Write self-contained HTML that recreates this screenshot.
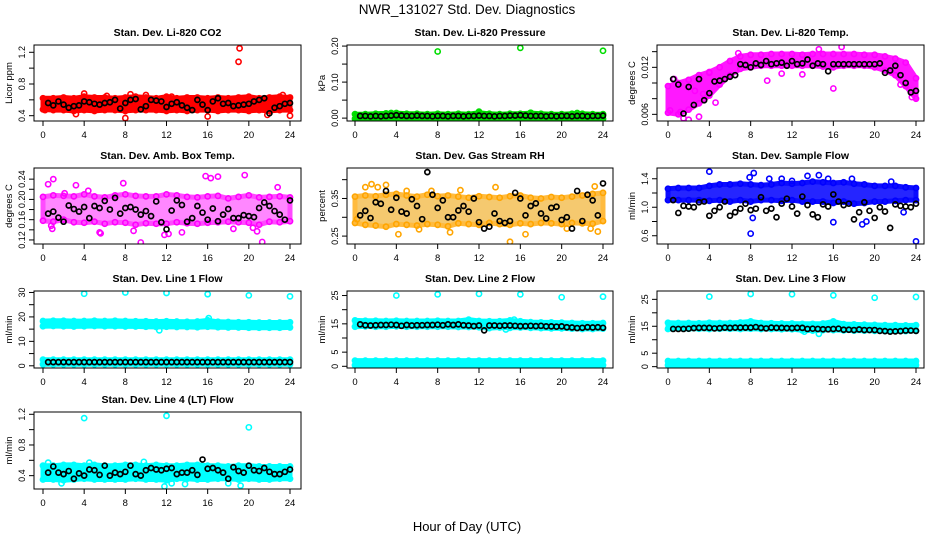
<!DOCTYPE html>
<html><head><meta charset="utf-8">
<style>
html,body{margin:0;padding:0;background:#fff;}
svg{display:block;font-family:"Liberation Sans",sans-serif;}
</style></head>
<body>
<svg id="chart" width="936" height="540" viewBox="0 0 936 540">
<text x="467" y="14" text-anchor="middle" font-size="13.5">NWR_131027  Std. Dev. Diagnostics</text>
<text x="467" y="531" text-anchor="middle" font-size="13">Hour of Day (UTC)</text>
</svg>
<script>
// ---- data (hours 0..24 hourly band limits; black points every 0.5h from 0.5 to 24) ----
const hours = [0,1,2,3,4,5,6,7,8,9,10,11,12,13,14,15,16,17,18,19,20,21,22,23,24];
const xTicks = [0,4,8,12,16,20,24];

const co2Lo = [0.48,0.47,0.47,0.46,0.47,0.46,0.47,0.47,0.46,0.47,0.47,0.47,0.46,0.47,0.46,0.47,0.47,0.46,0.47,0.47,0.46,0.47,0.46,0.47,0.47];
const co2Hi = [0.62,0.62,0.63,0.62,0.64,0.63,0.63,0.62,0.63,0.64,0.63,0.62,0.64,0.62,0.63,0.63,0.62,0.63,0.62,0.63,0.64,0.62,0.63,0.64,0.63];
const co2OutX = [19.1,19,8,16,21.8,24,4,8.5,10,23.3,3.2,0.2,12.5,6.2];
const co2OutY = [1.25,1.08,0.37,0.39,0.41,0.40,0.68,0.67,0.66,0.66,0.42,0.47,0.64,0.65];
const co2Black = [0.56,0.53,0.58,0.54,0.50,0.52,0.53,0.58,0.57,0.55,0.54,0.56,0.57,0.60,0.49,0.56,0.60,0.61,0.48,0.52,0.60,0.59,0.58,0.51,0.55,0.57,0.53,0.50,0.47,0.60,0.54,0.47,0.58,0.62,0.55,0.56,0.52,0.53,0.54,0.55,0.58,0.60,0.62,0.43,0.50,0.52,0.55,0.56];

const presLo = [-0.002,-0.002,-0.001,-0.002,-0.001,-0.002,-0.002,-0.001,-0.002,-0.002,-0.001,-0.002,-0.001,-0.002,-0.002,-0.001,-0.002,-0.002,-0.002,-0.003,-0.002,-0.002,-0.001,-0.002,-0.002];
const presHi = [0.011,0.011,0.012,0.013,0.014,0.012,0.012,0.011,0.012,0.011,0.012,0.011,0.015,0.012,0.011,0.012,0.012,0.014,0.012,0.011,0.011,0.012,0.012,0.011,0.011];
const presOutX = [8,16,24,12,3.5,17,21.5];
const presOutY = [0.185,0.195,0.187,0.018,0.014,0.015,0.014];
const presBlack = [0.006,0.006,0.005,0.006,0.005,0.006,0.007,0.008,0.007,0.006,0.006,0.007,0.006,0.006,0.005,0.006,0.006,0.005,0.006,0.006,0.005,0.006,0.006,0.007,0.006,0.006,0.005,0.006,0.006,0.007,0.007,0.008,0.007,0.006,0.006,0.006,0.005,0.006,0.005,0.006,0.006,0.005,0.006,0.006,0.005,0.006,0.006,0.007];

const tempLo = [0.0062,0.0060,0.0066,0.0074,0.0084,0.0098,0.0110,0.0118,0.0120,0.0122,0.0122,0.0122,0.0122,0.0122,0.0122,0.0121,0.0120,0.0122,0.0122,0.0122,0.0120,0.0116,0.0110,0.0096,0.0080];
const tempHi = [0.0096,0.0100,0.0104,0.0110,0.0114,0.0120,0.0128,0.0134,0.0136,0.0136,0.0137,0.0137,0.0137,0.0136,0.0137,0.0137,0.0137,0.0137,0.0137,0.0136,0.0136,0.0134,0.0131,0.0126,0.0106];
const tempOutX = [0.2,0.6,1.5,2,1.2,3,4,4.6,9.6,11,13,16,16.8,14.6,22.5,23.6,6.8,2.6,3.4];
const tempOutY = [0.0065,0.0105,0.0055,0.0053,0.0063,0.0057,0.0113,0.0075,0.0103,0.0112,0.0111,0.0093,0.0146,0.0143,0.0098,0.0082,0.0138,0.0090,0.0086];
const tempBlack = [0.0105,0.0098,0.0061,0.0095,0.0072,0.0105,0.0078,0.0087,0.0102,0.0103,0.0105,0.0108,0.0110,0.0124,0.0123,0.0120,0.0125,0.0123,0.0128,0.0124,0.0125,0.0126,0.0122,0.0128,0.0124,0.0125,0.0130,0.0122,0.0125,0.0124,0.0115,0.0124,0.0124,0.0124,0.0124,0.0124,0.0124,0.0124,0.0124,0.0124,0.0125,0.0113,0.0116,0.0122,0.0110,0.0100,0.0088,0.0090];

const ambLo = [0.158,0.156,0.160,0.155,0.154,0.156,0.152,0.155,0.154,0.150,0.153,0.152,0.152,0.155,0.153,0.152,0.154,0.155,0.156,0.155,0.154,0.150,0.156,0.155,0.157];
const ambHi = [0.205,0.208,0.207,0.206,0.210,0.206,0.204,0.208,0.210,0.207,0.206,0.206,0.210,0.208,0.205,0.204,0.206,0.207,0.202,0.205,0.208,0.204,0.205,0.206,0.204];
const ambOutX = [0.5,1,0.8,3.2,9.5,7.8,5.5,15.8,16.3,17,19.6,20.4,21.3,20.8,11.8,12.2,8.8,2.1,5.6,22.8,13.5,18.5,0.9,4.4];
const ambOutY = [0.23,0.24,0.148,0.228,0.115,0.232,0.135,0.246,0.242,0.245,0.248,0.144,0.116,0.137,0.13,0.132,0.138,0.212,0.133,0.224,0.135,0.142,0.142,0.217];
const ambBlack = [0.172,0.176,0.164,0.156,0.188,0.181,0.176,0.185,0.163,0.187,0.183,0.197,0.180,0.203,0.172,0.183,0.185,0.180,0.170,0.177,0.167,0.196,0.155,0.141,0.178,0.198,0.189,0.156,0.163,0.187,0.174,0.160,0.182,0.157,0.170,0.181,0.163,0.163,0.169,0.167,0.165,0.183,0.194,0.187,0.177,0.170,0.160,0.198];

const rhLo = [0.285,0.280,0.278,0.275,0.282,0.280,0.278,0.282,0.280,0.276,0.284,0.282,0.280,0.285,0.282,0.280,0.284,0.282,0.285,0.284,0.282,0.285,0.284,0.283,0.290];
const rhHi = [0.355,0.358,0.356,0.360,0.362,0.358,0.355,0.360,0.356,0.358,0.355,0.352,0.356,0.354,0.352,0.356,0.358,0.352,0.350,0.354,0.352,0.355,0.358,0.362,0.365];
const rhOutX = [1.6,2.2,3,5,9.2,15,16.5,13.6,1.0,4.2,20.5,23.5,23.2,0.2,7.4,22.8,6.2,10.2];
const rhOutY = [0.388,0.38,0.386,0.37,0.26,0.235,0.255,0.38,0.38,0.255,0.27,0.262,0.382,0.295,0.37,0.27,0.268,0.372];
const rhBlack = [0.305,0.317,0.298,0.340,0.336,0.370,0.320,0.352,0.315,0.310,0.348,0.330,0.295,0.420,0.360,0.325,0.345,0.300,0.300,0.318,0.330,0.315,0.350,0.287,0.270,0.275,0.310,0.290,0.285,0.290,0.365,0.350,0.305,0.330,0.337,0.310,0.297,0.325,0.328,0.293,0.300,0.270,0.370,0.290,0.360,0.345,0.305,0.390];

const flowLo = [1.10,1.10,1.10,1.10,1.09,1.10,1.08,1.10,1.08,1.10,1.10,1.09,1.10,1.08,1.08,1.08,1.06,1.08,1.05,1.06,1.08,1.08,1.09,1.10,1.10];
const flowHi = [1.26,1.27,1.27,1.27,1.30,1.32,1.32,1.33,1.32,1.31,1.32,1.34,1.33,1.34,1.36,1.35,1.34,1.35,1.33,1.32,1.30,1.30,1.30,1.28,1.27];
const flowOutX = [4,8,8.3,8.2,16,18.8,24,14.6,19.2,13.5,9.8,11,12,15.5,17.8,21.6,7.9,22.8];
const flowOutY = [1.50,0.63,1.48,0.85,0.79,0.76,0.52,1.45,0.80,1.44,1.40,1.40,1.37,1.40,1.40,1.36,1.42,0.93];
const flowBlack = [1.10,0.92,1.02,1.01,1.00,1.07,1.08,0.88,0.95,1.00,1.08,0.88,0.93,0.98,1.05,0.96,0.98,1.14,0.95,0.98,0.86,1.05,1.12,1.01,0.91,1.15,1.03,0.90,0.86,1.04,1.01,1.18,1.08,1.03,1.05,0.83,0.93,1.07,0.95,0.85,1.00,0.94,0.71,1.04,1.02,1.01,1.00,1.05];

const l1Lo = [16.2,16.3,16.2,16.1,16.2,16.3,16.2,16.2,16.1,16.1,16.0,15.9,16.0,15.9,15.9,15.8,16.0,15.8,15.7,15.7,15.6,15.6,15.6,15.6,15.7];
const l1Hi = [18.3,18.4,18.4,18.3,18.3,18.4,18.3,18.4,18.3,18.2,18.2,18.1,18.2,18.1,18.0,18.1,18.6,18.0,17.9,17.8,17.8,17.7,17.7,17.7,17.8];
const l1LowLo = [0.6,0.6,0.6,0.6,0.6,0.6,0.6,0.6,0.6,0.6,0.6,0.6,0.6,0.6,0.6,0.6,0.6,0.6,0.6,0.6,0.6,0.6,0.6,0.6,0.6];
const l1LowHi = [2.5,2.5,2.5,2.5,2.5,2.5,2.5,2.5,2.5,2.5,2.5,2.5,2.5,2.5,2.5,2.5,2.5,2.5,2.5,2.5,2.5,2.5,2.5,2.5,2.5];
const l1OutX = [4,8,12,16,20,24,11.3,16.1];
const l1OutY = [29.5,30,29.8,29.3,28.8,28.4,14.5,19.5];
const l1Black = [1.5,1.5,1.5,1.5,1.5,1.5,1.5,1.5,1.5,1.5,1.5,1.5,1.5,1.5,1.5,1.5,1.5,1.5,1.5,1.5,1.5,1.5,1.5,1.5,1.5,1.5,1.5,1.5,1.5,1.5,1.5,1.5,1.5,1.5,1.5,1.5,1.5,1.5,1.5,1.5,1.5,1.5,1.5,1.5,1.5,1.5,1.5,1.5];

const l2Lo = [14.0,14.1,14.0,14.0,14.1,14.0,14.0,14.0,14.0,14.0,13.9,13.9,13.8,13.5,13.7,13.6,13.7,13.6,13.5,13.4,13.4,13.3,13.2,13.2,13.3];
const l2Hi = [16.2,16.1,16.1,16.0,16.1,16.0,16.0,16.0,16.1,16.0,16.0,16.5,16.0,15.9,15.9,16.2,15.9,15.6,15.5,15.5,15.4,15.3,15.2,15.2,15.3];
const l2LowLo = [0.4,0.4,0.4,0.4,0.4,0.4,0.4,0.4,0.4,0.4,0.4,0.4,0.4,0.4,0.4,0.4,0.4,0.4,0.4,0.4,0.4,0.4,0.4,0.4,0.4];
const l2LowHi = [2.0,2.0,2.0,2.0,2.0,2.0,2.0,2.0,2.0,2.0,2.0,2.0,2.0,2.0,2.0,2.0,2.0,2.0,2.0,2.0,2.0,2.0,2.0,2.0,2.0];
const l2OutX = [4,8,12,16,20,24,14.6,15.4];
const l2OutY = [25.0,25.4,25.6,25.4,24.4,24.6,13.0,16.5];
const l2Black = [14.8,14.5,14.4,14.5,14.6,14.6,14.7,14.6,14.3,14.6,14.4,14.5,14.5,14.6,14.6,14.7,14.5,14.8,14.6,14.8,14.5,14.4,14.2,14.4,12.7,14.4,14.4,14.3,14.4,14.4,14.3,14.2,14.2,14.3,14.2,14.3,14.1,14.1,14.0,14.1,13.8,13.7,13.5,13.6,13.8,13.7,13.8,13.6];

const l3Lo = [14.0,14.2,14.1,14.1,14.0,14.1,14.1,14.0,14.1,14.0,14.0,13.9,13.9,13.5,13.4,13.6,13.6,13.5,13.4,13.4,13.3,13.2,13.2,13.2,13.3];
const l3Hi = [16.3,16.2,16.2,16.1,16.3,16.2,16.2,16.4,16.8,16.2,16.1,16.0,16.0,15.9,15.9,16.0,16.8,15.8,15.7,15.6,15.5,15.4,15.4,15.3,15.4];
const l3LowLo = [0.6,0.6,0.6,0.6,0.6,0.6,0.6,0.6,0.6,0.6,0.6,0.6,0.6,0.6,0.6,0.6,0.6,0.6,0.6,0.6,0.6,0.6,0.6,0.6,0.6];
const l3LowHi = [2.1,2.1,2.1,2.1,2.1,2.1,2.1,2.1,2.1,2.1,2.1,2.1,2.1,2.1,2.1,2.1,2.1,2.1,2.1,2.1,2.1,2.1,2.1,2.1,2.1];
const l3OutX = [4,8,12,16,20,24,14.6,13.2];
const l3OutY = [26.0,27.0,26.9,26.5,25.6,25.9,12.2,13.0];
const l3Black = [14.0,14.0,14.0,14.1,14.3,14.4,14.4,14.4,14.2,14.3,14.5,14.4,14.5,14.5,14.5,14.5,14.7,14.4,14.2,14.5,14.4,14.4,14.3,14.3,14.4,14.4,14.0,14.1,14.0,13.9,13.9,14.0,14.1,13.7,13.7,13.6,13.8,13.6,13.6,13.6,13.3,13.2,13.0,13.1,13.2,13.4,13.4,13.3];

const l4Lo = [0.35,0.35,0.34,0.35,0.36,0.35,0.35,0.35,0.35,0.36,0.35,0.35,0.34,0.36,0.36,0.35,0.35,0.36,0.36,0.35,0.36,0.35,0.35,0.36,0.36];
const l4Hi = [0.53,0.53,0.54,0.54,0.53,0.54,0.53,0.53,0.54,0.54,0.53,0.54,0.53,0.53,0.54,0.54,0.53,0.53,0.52,0.53,0.53,0.52,0.52,0.52,0.52];
const l4OutX = [4,12,20,11.8,18,19.2,1.8,12.5,13.8,0.5,4.5,9.8];
const l4OutY = [1.15,1.18,1.03,0.26,0.30,0.27,0.30,0.30,0.29,0.57,0.57,0.58];
const l4Black = [0.44,0.52,0.44,0.42,0.46,0.36,0.43,0.40,0.48,0.47,0.41,0.53,0.40,0.44,0.42,0.45,0.53,0.42,0.40,0.47,0.50,0.48,0.47,0.49,0.50,0.42,0.44,0.44,0.47,0.41,0.61,0.49,0.50,0.47,0.44,0.36,0.51,0.46,0.44,0.53,0.47,0.46,0.50,0.45,0.42,0.42,0.45,0.48];

// ---- layout ----
const NS = 'http://www.w3.org/2000/svg';
const svg = document.getElementById('chart');
const cols = [{x0:34,x1:301,h0:43,h24:290},{x0:347,x1:613,h0:355,h24:603},{x0:657,x1:924,h0:668,h24:916}];
const rows = [{y0:45,y1:121},{y0:168,y1:244},{y0:291,y1:368},{y0:412,y1:489}];

const panels = [
 {key:'co2',title:'Stan. Dev. Li-820 CO2',ylab:'Licor ppm',r:0,c:0,ymin:0.333,ymax:1.292,ticks:[0.4,0.6,0.8,1.0,1.2],labels:['0.4','','0.8','','1.2'],color:'#ff0000',fill:'#ff0000',op:1,bands:[[co2Lo,co2Hi]],ox:co2OutX,oy:co2OutY,black:co2Black},
 {key:'pressure',title:'Stan. Dev. Li-820 Pressure',ylab:'kPa',r:0,c:1,ymin:-0.008,ymax:0.203,ticks:[0,0.05,0.1,0.15,0.2],labels:['0.00','','0.10','','0.20'],color:'#00dd00',fill:'#00cc00',op:1,bands:[[presLo,presHi]],ox:presOutX,oy:presOutY,black:presBlack},
 {key:'temp',title:'Stan. Dev. Li-820 Temp.',ylab:'degrees C',r:0,c:2,ymin:0.00515,ymax:0.01485,ticks:[0.006,0.008,0.010,0.012,0.014],labels:['0.006','','','0.012',''],color:'#ff00ff',fill:'#ff00ff',op:0.9,bands:[[tempLo,tempHi]],ox:tempOutX,oy:tempOutY,black:tempBlack},
 {key:'ambtemp',title:'Stan. Dev. Amb. Box Temp.',ylab:'degrees C',r:1,c:0,ymin:0.112,ymax:0.262,ticks:[0.12,0.14,0.16,0.18,0.2,0.22,0.24],labels:['0.12','','0.16','','0.20','','0.24'],color:'#ff00ff',fill:'#ff55ff',op:0.7,bands:[[ambLo,ambHi]],ox:ambOutX,oy:ambOutY,black:ambBlack},
 {key:'rh',title:'Stan. Dev. Gas Stream RH',ylab:'percent',r:1,c:1,ymin:0.229,ymax:0.431,ticks:[0.25,0.3,0.35,0.4],labels:['0.25','','0.35',''],color:'#ffa500',fill:'#f2b840',op:0.75,bands:[[rhLo,rhHi]],ox:rhOutX,oy:rhOutY,black:rhBlack},
 {key:'sampleflow',title:'Stan. Dev. Sample Flow',ylab:'ml/min',r:1,c:2,ymin:0.484,ymax:1.551,ticks:[0.6,0.8,1.0,1.2,1.4],labels:['0.6','','1.0','','1.4'],color:'#0000ff',fill:'#1a1aff',op:0.95,bands:[[flowLo,flowHi]],ox:flowOutX,oy:flowOutY,black:flowBlack},
 {key:'line1',title:'Stan. Dev. Line 1 Flow',ylab:'ml/min',r:2,c:0,ymin:-0.9,ymax:30.6,ticks:[0,5,10,15,20,25,30],labels:['0','','10','','20','','30'],color:'#00ffff',fill:'#00ffff',op:1,bands:[[l1Lo,l1Hi],[l1LowLo,l1LowHi]],ox:l1OutX,oy:l1OutY,black:l1Black},
 {key:'line2',title:'Stan. Dev. Line 2 Flow',ylab:'ml/min',r:2,c:1,ymin:-0.6,ymax:26.6,ticks:[0,5,10,15,20,25],labels:['0','5','','15','','25'],color:'#00ffff',fill:'#00ffff',op:1,bands:[[l2Lo,l2Hi],[l2LowLo,l2LowHi]],ox:l2OutX,oy:l2OutY,black:l2Black},
 {key:'line3',title:'Stan. Dev. Line 3 Flow',ylab:'ml/min',r:2,c:2,ymin:-0.5,ymax:28.1,ticks:[0,5,10,15,20,25],labels:['0','5','','15','','25'],color:'#00ffff',fill:'#00ffff',op:1,bands:[[l3Lo,l3Hi],[l3LowLo,l3LowHi]],ox:l3OutX,oy:l3OutY,black:l3Black},
 {key:'line4',title:'Stan. Dev. Line 4 (LT) Flow',ylab:'ml/min',r:3,c:0,ymin:0.226,ymax:1.23,ticks:[0.4,0.6,0.8,1.0,1.2],labels:['0.4','','0.8','','1.2'],color:'#00ffff',fill:'#00ffff',op:1,bands:[[l4Lo,l4Hi]],ox:l4OutX,oy:l4OutY,black:l4Black}
];

function mk(tag, attrs, parent){
  const e = document.createElementNS(NS, tag);
  for (const k in attrs) e.setAttribute(k, attrs[k]);
  (parent||svg).appendChild(e);
  return e;
}

panels.forEach(p => {
  const C = cols[p.c], R = rows[p.r];
  const xs = h => C.h0 + (h/24)*(C.h24 - C.h0);
  const ys = v => R.y1 - (v - p.ymin)/(p.ymax - p.ymin)*(R.y1 - R.y0);
  const g = mk('g', {});
  
  

  const clipId = 'clip-' + p.key;
  const cp = mk('clipPath', {id: clipId}, g);
  mk('rect', {x:C.x0, y:R.y0, width:C.x1-C.x0, height:R.y1-R.y0}, cp);
  const plot = mk('g', {'clip-path':'url(#'+clipId+')'}, g);

  p.bands.forEach((b, bi) => {
    let d = '';
    hours.forEach((h,i) => { d += (i?'L':'M') + xs(h).toFixed(1) + ',' + ys(b[1][i]).toFixed(1); });
    for (let i = hours.length-1; i >= 0; i--) d += 'L' + xs(hours[i]).toFixed(1) + ',' + ys(b[0][i]).toFixed(1);
    d += 'Z';
    const band = mk('path', {d:d, fill:p.fill, stroke:p.color, 'stroke-width':5, 'stroke-linejoin':'round', opacity:p.op}, plot);
    
    
    hours.forEach((h,i) => {
      [b[0][i], b[1][i]].forEach(v => {
        const c = mk('circle', {cx:xs(h), cy:ys(v), r:2.6, fill:'none', stroke:p.color, 'stroke-width':1.6}, plot);
        
        
      });
    });
  });
  p.ox.forEach((h,i) => {
    const c = mk('circle', {cx:xs(h), cy:ys(p.oy[i]), r:2.6, fill:'none', stroke:p.color, 'stroke-width':1.6}, plot);
    
    
  });
  p.black.forEach((v,i) => {
    const h = 0.5 + i*0.5;
    const c = mk('circle', {cx:xs(h), cy:ys(v), r:2.5, fill:'none', stroke:'#000', 'stroke-width':1.7}, plot);
    
    
  });

  const box = mk('rect', {x:C.x0, y:R.y0, width:C.x1-C.x0, height:R.y1-R.y0, fill:'none', stroke:'#000', 'stroke-width':1}, g);
  
  

  const t = mk('text', {x:(C.x0+C.x1)/2, y:R.y0-9, 'text-anchor':'middle', 'font-size':10.5, 'font-weight':'bold'}, g);
  t.textContent = p.title;
  
  

  xTicks.forEach(h => {
    const x = xs(h);
    mk('line', {x1:x, x2:x, y1:R.y1, y2:R.y1+5, stroke:'#000'}, g);
    const tl = mk('text', {x:x, y:R.y1+17, 'text-anchor':'middle', 'font-size':9.5}, g);
    tl.textContent = String(h);
    
    
  });
  p.ticks.forEach((v,i) => {
    const y = ys(v);
    mk('line', {x1:C.x0-5, x2:C.x0, y1:y, y2:y, stroke:'#000'}, g);
    if (p.labels[i]) {
      const tx = C.x0 - 9;
      const tl = mk('text', {x:tx, y:y, 'text-anchor':'middle', 'font-size':9, transform:'rotate(-90 '+tx+' '+y+')'}, g);
      tl.textContent = p.labels[i];
      
      
    }
  });
  const lx = C.x0 - 22, ly = (R.y0+R.y1)/2;
  const yl = mk('text', {x:lx, y:ly, 'text-anchor':'middle', 'font-size':9.5, transform:'rotate(-90 '+lx+' '+ly+')'}, g);
  yl.textContent = p.ylab;
  
  
});
</script>
</body></html>
